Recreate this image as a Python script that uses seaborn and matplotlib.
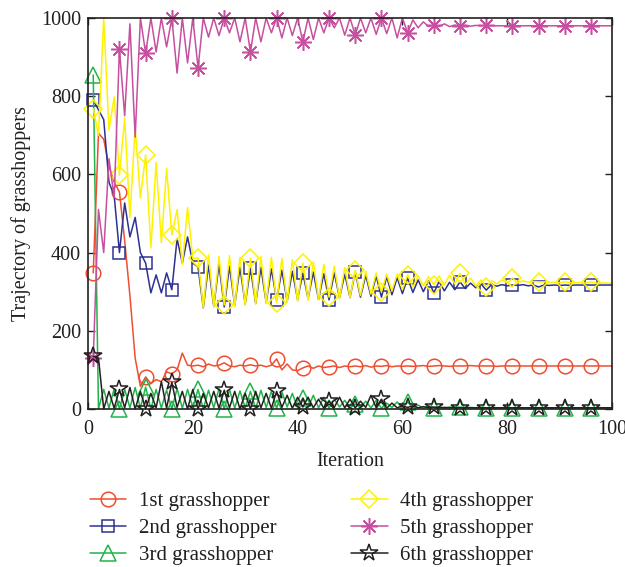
import matplotlib
matplotlib.use("Agg")
import matplotlib.pyplot as plt
import seaborn as sns
import pandas as pd

iterations = list(range(1, 101))

g1 = [348, 705, 690, 620, 580, 555, 430, 290, 130, 58,
      82, 65, 75, 70, 95, 90, 100, 143, 112, 110,
      112, 108, 115, 110, 112, 118, 110, 108, 112, 110,
      113, 110, 112, 108, 112, 128, 100, 115, 100, 98,
      105, 110, 104, 110, 106, 108, 110, 106, 110, 108,
      110, 108, 111, 107, 110, 109, 111, 108, 110, 109,
      110, 109, 110, 111, 109, 110, 111, 110, 109, 110,
      110, 110, 111, 110, 110, 110, 110, 109, 110, 110,
      110, 110, 110, 110, 110, 110, 110, 110, 110, 110,
      110, 110, 110, 110, 110, 110, 110, 110, 110, 110]

g2 = [790, 765, 740, 580, 545, 400, 527, 440, 490, 400,
      373, 297, 343, 297, 348, 305, 435, 373, 440, 373,
      363, 258, 368, 262, 370, 261, 365, 265, 362, 268,
      360, 270, 362, 272, 358, 279, 355, 275, 352, 280,
      348, 282, 350, 280, 346, 279, 348, 284, 345, 285,
      350, 286, 342, 288, 340, 286, 338, 292, 336, 295,
      335, 298, 330, 300, 328, 297, 326, 302, 324, 305,
      325, 308, 322, 310, 320, 304, 318, 314, 318, 315,
      317, 316, 318, 315, 317, 312, 317, 316, 317, 316,
      317, 316, 317, 317, 317, 317, 317, 317, 317, 317]

g3 = [854, 0, 50, 2, 52, 0, 50, 3, 55, 2,
      56, 0, 50, 3, 48, 0, 52, 2, 50, 4,
      50, 0, 48, 3, 52, 0, 50, 2, 46, 3,
      45, 0, 48, 4, 45, 2, 44, 5, 40, 3,
      28, 4, 35, 3, 30, 2, 25, 5, 22, 3,
      12, 4, 20, 3, 22, 2, 15, 4, 18, 2,
      18, 3, 10, 2, 8, 3, 6, 2, 5, 3,
      5, 3, 4, 3, 4, 3, 3, 3, 3, 3,
      3, 3, 3, 3, 3, 3, 3, 3, 3, 3,
      3, 3, 3, 3, 3, 3, 3, 3, 3, 3]

g4 = [768, 700, 1000, 713, 798, 598, 744, 490, 720, 540,
      650, 412, 630, 425, 615, 445, 510, 370, 515, 385,
      386, 258, 394, 262, 390, 266, 392, 262, 388, 265,
      386, 268, 390, 270, 388, 271, 385, 272, 382, 275,
      373, 278, 376, 280, 370, 286, 365, 282, 362, 285,
      355, 290, 352, 294, 348, 299, 345, 302, 345, 305,
      343, 312, 340, 315, 338, 318, 340, 318, 342, 320,
      347, 318, 335, 315, 330, 312, 328, 320, 330, 322,
      335, 322, 328, 324, 326, 325, 325, 324, 324, 323,
      325, 323, 323, 323, 322, 325, 322, 322, 322, 322]

g5 = [130, 510, 400, 640, 540, 920, 750, 985, 695, 1000,
      910, 1000, 913, 1000, 926, 1000, 859, 1000, 885, 1000,
      872, 1000, 951, 1000, 955, 1000, 962, 1000, 939, 1000,
      913, 1000, 939, 1000, 962, 1000, 949, 1000, 955, 1000,
      939, 1000, 945, 1000, 962, 1000, 975, 1000, 956, 1000,
      956, 1000, 962, 1000, 958, 1000, 960, 1000, 949, 1000,
      962, 995, 975, 990, 978, 982, 978, 985, 978, 982,
      980, 982, 979, 981, 980, 981, 980, 980, 980, 980,
      980, 980, 980, 980, 980, 980, 980, 980, 980, 980,
      980, 980, 980, 980, 980, 980, 980, 980, 980, 980]

g6 = [135, 130, 0, 45, 2, 50, 3, 55, 0, 45,
      0, 40, 3, 70, 2, 68, 4, 45, 0, 50,
      0, 40, 3, 45, 2, 48, 3, 45, 0, 40,
      0, 45, 3, 40, 2, 45, 4, 35, 2, 30,
      5, 30, 3, 25, 2, 20, 4, 30, 3, 25,
      3, 20, 4, 35, 3, 25, 2, 15, 3, 8,
      4, 8, 3, 6, 3, 5, 3, 4, 3, 4,
      3, 3, 3, 3, 3, 3, 3, 3, 3, 3,
      3, 3, 3, 3, 3, 3, 3, 3, 3, 3,
      3, 3, 3, 3, 3, 3, 3, 3, 3, 3]

labels = ["1st grasshopper", "2nd grasshopper", "3rd grasshopper",
          "4th grasshopper", "5th grasshopper", "6th grasshopper"]
series = [g1, g2, g3, g4, g5, g6]
colors = ["#f04e30", "#2e3192", "#22b34a", "#fff200", "#c64f9f", "#231f20"]
markers = ["o", "s", "^", "D", (8, 2, 0), "*"]
msizes = [10.5, 8.5, 11, 9.5, 12, 13]

sns.set_style("ticks")
plt.rcParams["font.family"] = ["Liberation Serif", "DejaVu Serif"]

fig = plt.figure(figsize=(6.25, 5.67), dpi=100)
ax = fig.add_axes([0.1408, 0.2787, 0.8384, 0.6896])

for vals, lab, c, m, ms in zip(series, labels, colors, markers, msizes):
    df = pd.DataFrame({"Iteration": iterations, "value": vals})
    sns.lineplot(data=df, x="Iteration", y="value", ax=ax, color=c,
                 marker=m, markevery=(0, 5), markersize=ms,
                 markerfacecolor="none", markeredgecolor=c,
                 markeredgewidth=1.1, linewidth=1.1, label=lab,
                 clip_on=False, legend=False)

ax.set_xlim(0, 100)
ax.set_ylim(0, 1000)
ax.set_xticks([0, 20, 40, 60, 80, 100])
ax.set_yticks([0, 200, 400, 600, 800, 1000])
ax.tick_params(direction="in", length=5, width=1, top=True, right=True,
               labelsize=14.5, colors="#231f20")
ax.tick_params(axis="x", pad=8)
ax.tick_params(axis="y", pad=5)
for s in ax.spines.values():
    s.set_linewidth(1.2)
    s.set_color("#231f20")
ax.set_xlabel("Iteration", fontsize=14.5, labelpad=9, color="#231f20")
ax.set_ylabel("Trajectory of grasshoppers", fontsize=14.5, labelpad=7, color="#231f20")

handles = ax.get_lines()[:6]
fig.legend(handles, labels, ncol=2, loc="upper left",
           bbox_to_anchor=(0.130, 0.148), frameon=False,
           fontsize=15, handlelength=1.75, columnspacing=3.6,
           labelspacing=0.36, numpoints=1, handletextpad=0.6,
           borderaxespad=0, labelcolor="#231f20")

fig.savefig("out.png", dpi=100)
